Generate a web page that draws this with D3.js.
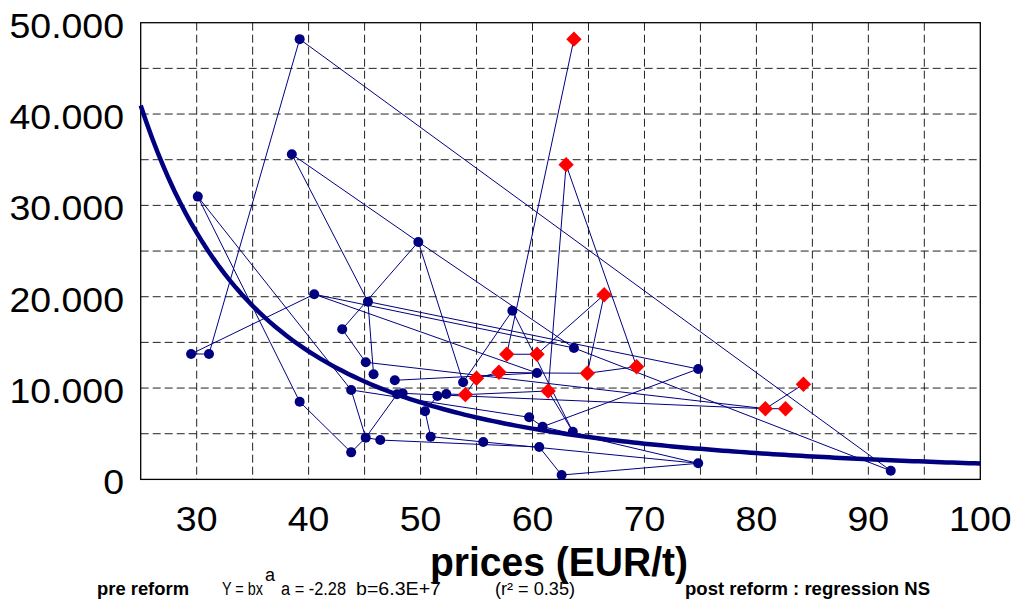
<!DOCTYPE html>
<html>
<head>
<meta charset="utf-8">
<script src="https://cdn.jsdelivr.net/npm/d3@7"></script>
<style>
  body { margin: 0; background: #fff; }
  svg { display: block; font-family: Arial, "Liberation Sans", sans-serif; }
</style>
</head>
<body>
<svg id="chart" width="1017" height="599"></svg>
<script>
// pre reform observations: [id, price EUR/t, quantity]
var preReform = [
  ["b1", 39.2, 48200], ["b2", 38.5, 35600], ["b3", 30.1, 30960], ["b4", 49.8, 26000],
  ["b5", 40.5, 20270], ["b6", 45.3, 19460], ["b7", 43.0, 16440], ["b8", 29.5, 13730],
  ["b9", 31.1, 13730], ["b10", 45.1, 12820], ["b11", 45.8, 11510], ["b12", 47.7, 10850],
  ["b13", 43.8, 9790], ["b14", 47.9, 9320], ["b15", 48.4, 9420], ["b16", 50.4, 7460],
  ["b17", 39.2, 8510], ["b18", 45.1, 4570], ["b19", 46.4, 4310], ["b20", 43.8, 2960],
  ["b21", 58.2, 18470], ["b22", 63.7, 14390], ["b23", 74.8, 12090], ["b24", 60.4, 11650],
  ["b25", 53.8, 10630], ["b26", 51.5, 9130], ["b27", 52.3, 9350], ["b28", 59.7, 6800],
  ["b29", 60.9, 5770], ["b30", 63.6, 5220], ["b31", 50.9, 4680], ["b32", 55.6, 4100],
  ["b33", 60.6, 3550], ["b34", 74.8, 1760], ["b35", 62.6, 480], ["b36", 92.0, 950]
];

// post reform observations
var postReform = [
  ["r1", 63.7, 48200], ["r2", 63.0, 34460], ["r3", 66.4, 20220], ["r4", 57.7, 13700],
  ["r5", 60.4, 13700], ["r6", 57.0, 11730], ["r7", 64.9, 11620], ["r8", 69.3, 12340],
  ["r9", 55.0, 11070], ["r10", 54.0, 9280], ["r11", 61.4, 9680], ["r12", 80.8, 7740],
  ["r13", 82.6, 7740], ["r14", 84.2, 10410]
];

// connecting segments between observations
var links = [
  ["b8", "b9"], ["b9", "b1"], ["b1", "b36"], ["b36", "b22"], ["b22", "b4"], ["b4", "b2"],
  ["b2", "b6"], ["b6", "b23"], ["b23", "b29"], ["b29", "b28"], ["b28", "b13"], ["b13", "b3"],
  ["b3", "b17"], ["b17", "b20"], ["b20", "b18"], ["b18", "b19"], ["b19", "b33"], ["b5", "b8"],
  ["b5", "b24"], ["b5", "b22"], ["b4", "b7"], ["b4", "b25"], ["b7", "b10"], ["b6", "b11"],
  ["b18", "b14"], ["b21", "b25"], ["b21", "b30"], ["b31", "b32"], ["b34", "b35"],
  ["b16", "b31"], ["b12", "b24"], ["b15", "r12"], ["b26", "b27"], ["b34", "b29"],
  ["b10", "r12"], ["b18", "b13"], ["b32", "b34"], ["b35", "b33"], ["b16", "b26"],
  ["r1", "r4"], ["r4", "r5"], ["r5", "r3"], ["r3", "r7"], ["r7", "r8"], ["r8", "r2"],
  ["r2", "r11"], ["r11", "r10"], ["r10", "r9"], ["r9", "r6"], ["r6", "b24"], ["r12", "r13"],
  ["r12", "r14"], ["r11", "b30"], ["r7", "b24"], ["r10", "b27"]
];

// fitted power curve Y = b x^a (pre reform)
var fitA = -2.28, fitB = 6.3e7;

var xTicks = [30, 40, 50, 60, 70, 80, 90, 100];
var yTicks = [0, 10000, 20000, 30000, 40000, 50000];
var xGrid = d3.range(30, 100, 5);
var yGrid = d3.range(5000, 50000, 5000);

var svg = d3.select("#chart");
var plotL = 140.7, plotR = 980.3, plotT = 22.7, plotB = 479.4;

var x = d3.scaleLinear().domain([25, 100]).range([plotL, plotR]);
var y = d3.scaleLinear().domain([0, 50000]).range([plotB, plotT]);

var fmt = d3.formatLocale({ decimal: ",", thousands: ".", grouping: [3], currency: ["", ""] }).format(",d");

// grid
var grid = svg.append("g").attr("stroke", "#222").attr("stroke-width", 1).attr("stroke-dasharray", "8,4");
grid.selectAll("line.v").data(xGrid).enter().append("line")
  .attr("x1", function(d) { return x(d); }).attr("x2", function(d) { return x(d); })
  .attr("y1", plotT).attr("y2", plotB);
grid.selectAll("line.h").data(yGrid).enter().append("line")
  .attr("y1", function(d) { return y(d); }).attr("y2", function(d) { return y(d); })
  .attr("x1", plotL).attr("x2", plotR);

svg.append("rect").attr("x", plotL).attr("y", plotT)
  .attr("width", plotR - plotL).attr("height", plotB - plotT)
  .attr("fill", "none").attr("stroke", "#000").attr("stroke-width", 1.3);

// tick labels
svg.selectAll("text.yl").data(yTicks).enter().append("text")
  .attr("transform", function(d) { return "translate(124," + (y(d) + 14.8) + ") scale(1.07,1)"; })
  .attr("text-anchor", "end").attr("font-size", 35).attr("fill", "#000")
  .text(function(d) { return fmt(d); });

svg.selectAll("text.xl").data(xTicks).enter().append("text")
  .attr("transform", function(d) { return "translate(" + x(d) + ",531) scale(1.07,1)"; })
  .attr("text-anchor", "middle").attr("font-size", 35).attr("fill", "#000")
  .text(function(d) { return d; });

// connecting lines
var all = {};
preReform.concat(postReform).forEach(function(p) { all[p[0]] = p; });
svg.append("g").selectAll("line").data(links).enter().append("line")
  .attr("x1", function(d) { return x(all[d[0]][1]); }).attr("y1", function(d) { return y(all[d[0]][2]); })
  .attr("x2", function(d) { return x(all[d[1]][1]); }).attr("y2", function(d) { return y(all[d[1]][2]); })
  .attr("stroke", "#000080").attr("stroke-width", 1);

// fitted curve
var curveX = d3.range(25, 100.01, 0.5);
svg.append("path").datum(curveX)
  .attr("fill", "none").attr("stroke", "#000080").attr("stroke-width", 4.5)
  .attr("d", d3.line().x(function(d) { return x(d); }).y(function(d) { return y(fitB * Math.pow(d, fitA)); }));

// markers
svg.append("g").selectAll("circle").data(preReform).enter().append("circle")
  .attr("cx", function(d) { return x(d[1]); }).attr("cy", function(d) { return y(d[2]); })
  .attr("r", 5).attr("fill", "#000080");

svg.append("g").selectAll("path").data(postReform).enter().append("path")
  .attr("transform", function(d) { return "translate(" + x(d[1]) + "," + y(d[2]) + ")"; })
  .attr("d", "M0,-7.7L7.7,0L0,7.7L-7.7,0Z").attr("fill", "#ff0000");

// titles
svg.append("text").attr("x", 430).attr("y", 576).attr("font-size", 40).attr("font-weight", "bold")
  .attr("textLength", 258).attr("lengthAdjust", "spacingAndGlyphs").text("prices (EUR/t)");

var foot = svg.append("g").attr("font-size", 18).attr("fill", "#000");
foot.append("text").attr("x", 97).attr("y", 595).attr("font-weight", "bold")
  .attr("textLength", 92).attr("lengthAdjust", "spacingAndGlyphs").text("pre reform");
foot.append("text").attr("x", 222).attr("y", 595).attr("textLength", 41).attr("lengthAdjust", "spacingAndGlyphs").text("Y = bx");
foot.append("text").attr("x", 265).attr("y", 581).text("a");
foot.append("text").attr("x", 281).attr("y", 595).attr("textLength", 65).attr("lengthAdjust", "spacingAndGlyphs").text("a = -2.28");
foot.append("text").attr("x", 356).attr("y", 595).attr("textLength", 85).attr("lengthAdjust", "spacingAndGlyphs").text("b=6.3E+7");
foot.append("text").attr("x", 495).attr("y", 595).attr("textLength", 80).attr("lengthAdjust", "spacingAndGlyphs").text("(r\u00b2 = 0.35)");
foot.append("text").attr("x", 685).attr("y", 595).attr("font-weight", "bold")
  .attr("textLength", 245).attr("lengthAdjust", "spacingAndGlyphs").text("post reform : regression NS");
</script>
</body>
</html>
